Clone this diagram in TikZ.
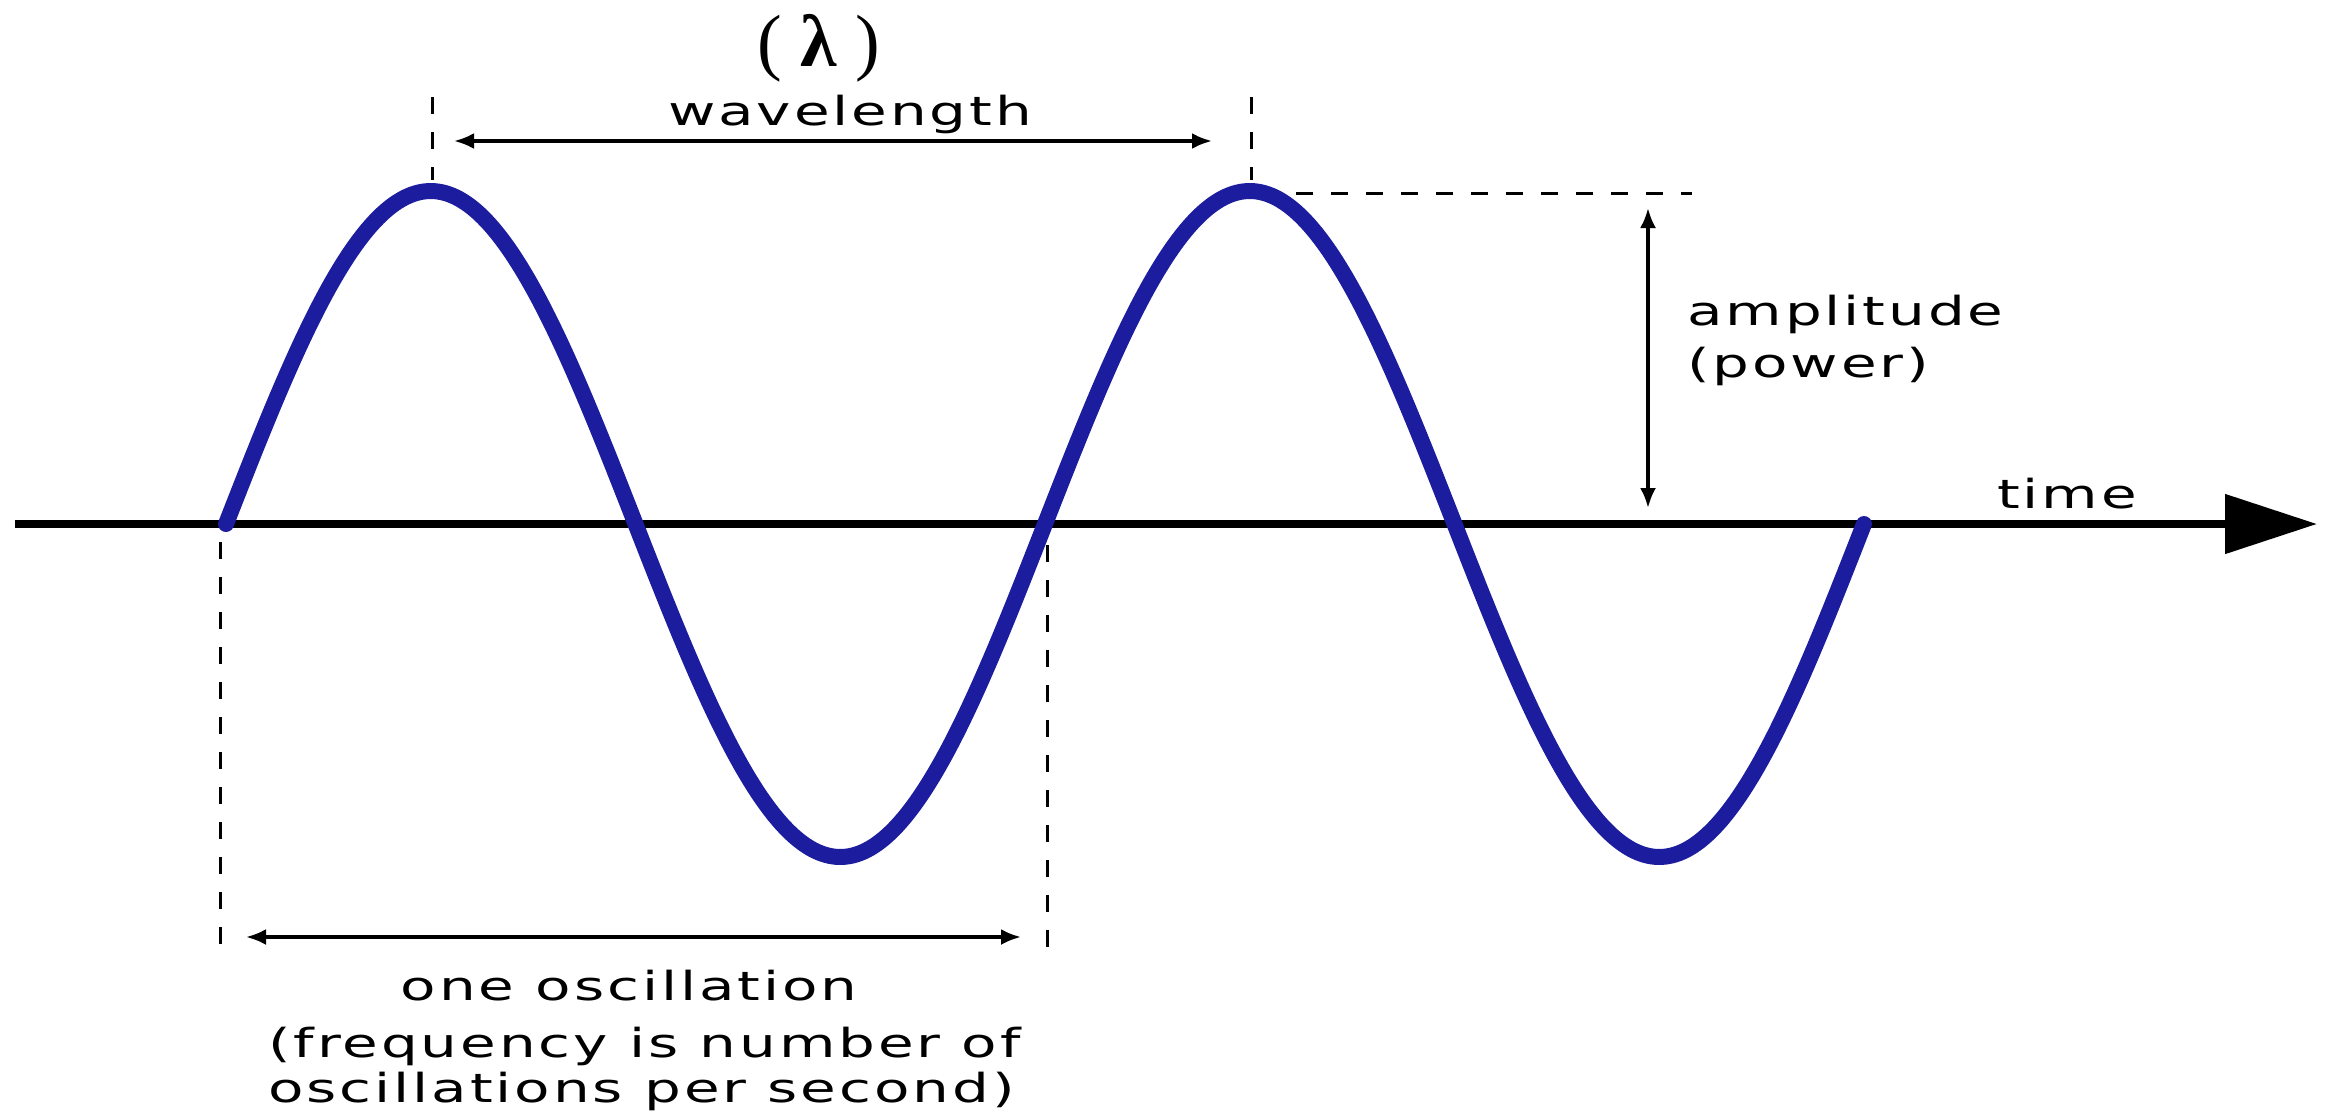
\documentclass[tikz,border=0pt]{standalone}
\usepackage{fontspec}
\setmainfont{DejaVu Sans}[LetterSpace=5]
\newfontfamily\lamfont{Liberation Serif}
\usetikzlibrary{arrows.meta}
\definecolor{waveblue}{RGB}{28,28,158}
\newcommand\wsx[1]{\scalebox{1.45}[1]{#1}}
\begin{document}
\begin{tikzpicture}[x=1pt,y=-1pt,
  lbl/.style={font=\fontsize{40}{48}\selectfont, inner sep=0pt, text=black},
  dimarrow/.style={line width=3.5pt, {Latex[length=20pt,width=16pt]}-{Latex[length=20pt,width=16pt]}},
  guide/.style={line width=3pt, dash pattern=on 17pt off 18pt},
  wave/.style={line width=16pt, draw=waveblue, line cap=round},
  axisline/.style={line width=8pt, -{Triangle[length=92pt,width=58pt]}}]
\useasboundingbox (0,0) rectangle (2336,1114);
% axis
\coordinate (ax0) at (15,524);
\coordinate (ax1) at (2317,524);
\draw[axisline] (ax0) -- (ax1);
% wave
\draw[wave] plot[domain=0:720, samples=240, smooth] ({226+\x*2.275}, {524-333*sin(\x)});
% guides
\coordinate (u1a) at (432,97);  \coordinate (u1b) at (432,180);
\coordinate (u2a) at (1251,97); \coordinate (u2b) at (1251,180);
\coordinate (h1a) at (1296,193); \coordinate (h1b) at (1692,193);
\coordinate (l1a) at (220,542); \coordinate (l1b) at (220,946);
\coordinate (l2a) at (1047,545); \coordinate (l2b) at (1047,961);
\draw[guide] (u1a) -- (u1b);
\draw[guide] (u2a) -- (u2b);
\draw[guide] (h1a) -- (h1b);
\draw[guide] (l1a) -- (l1b);
\draw[guide] (l2a) -- (l2b);
% dimension arrows
\coordinate (wla) at (454,141);  \coordinate (wlb) at (1212,141);
\coordinate (ampa) at (1648,208); \coordinate (ampb) at (1648,508);
\coordinate (osca) at (246,937); \coordinate (oscb) at (1021,937);
\draw[dimarrow] (wla) -- (wlb);
\draw[dimarrow] (ampa) -- (ampb);
\draw[dimarrow] (osca) -- (oscb);
% labels
\node[lbl, anchor=base, font=\lamfont\fontsize{74}{80}\selectfont] (lam) at (819,66) {( \textbf{λ} )};
\node[lbl, anchor=base] (wl) at (850,125) {\wsx{wavelength}};
\node[lbl, anchor=base west] (amp) at (1687,325) {\wsx{amplitude}};
\node[lbl, anchor=base west] (pow) at (1687,377) {\wsx{(power)}};
\node[lbl, anchor=base west] (time) at (1997,508) {\wsx{time}};
\node[lbl, anchor=base] (osc) at (629,1000) {\wsx{one oscillation}};
\node[lbl, anchor=base west] (frq1) at (268,1057) {\wsx{(frequency is number of}};
\node[lbl, anchor=base west] (frq2) at (268,1102) {\wsx{oscillations per second)}};
\end{tikzpicture}
\end{document}
